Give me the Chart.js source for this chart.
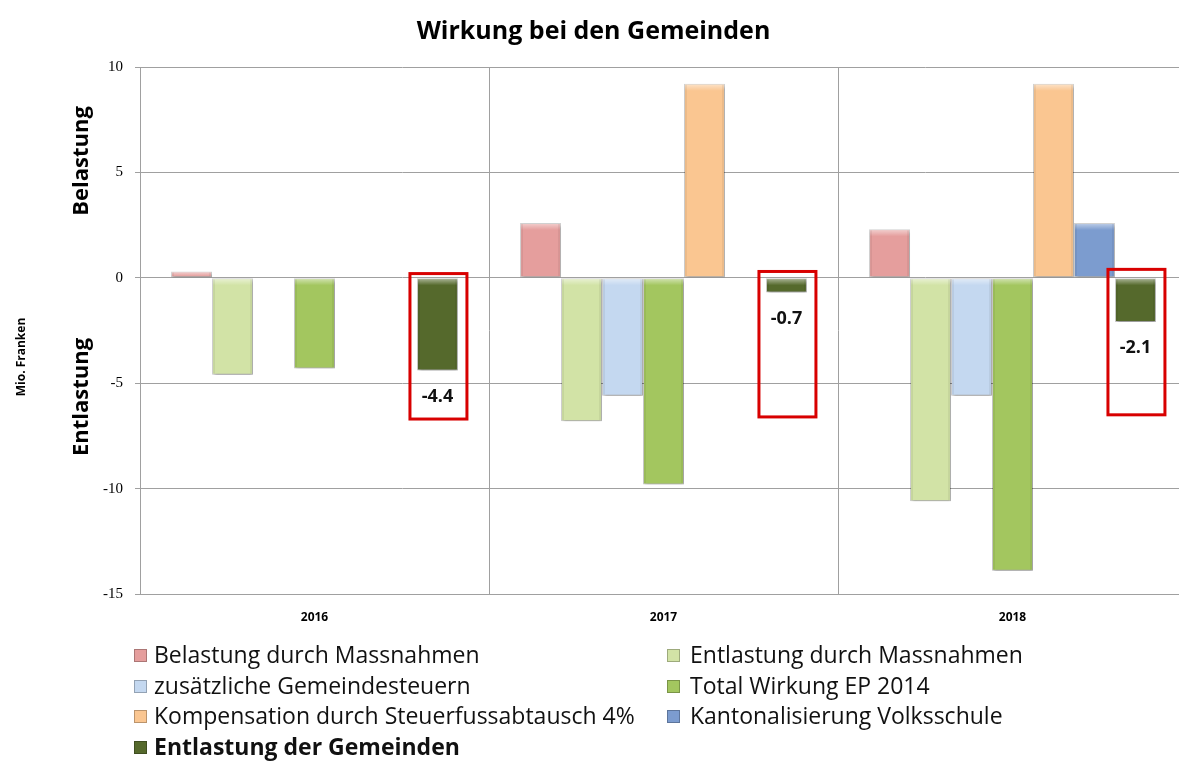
<!DOCTYPE html>
<html>
<head>
<meta charset="utf-8">
<script src="https://cdn.jsdelivr.net/npm/chart.js@4"></script>
<style>
	body { margin: 0; background: #fff; overflow: hidden; width: 1179px; height: 766px; position: relative; }
	#wrap { position: absolute; left: 0; top: 0; width: 1200px; height: 640px; }
	#legend { position: absolute; left: 0; top: 639px; width: 1179px; font-family: "Open Sans", sans-serif; font-size: 23px; color: #111; }
	#legend .item { position: absolute; height: 30px; line-height: 30px; white-space: nowrap; }
	#legend .box { position: absolute; top: 10px; width: 13px; height: 13px; box-sizing: border-box; border: 1px solid rgba(0,0,0,0.25); }
	#legend .txt { position: absolute; top: 0; }
</style>
</head>
<body>
<div id="wrap"><canvas id="chart" width="1200" height="640"></canvas></div>
<div id="legend"></div>
<script>
// values in Mio. Franken
var years = ['2016', '2017', '2018'];
var belastungMassnahmen = [0.3, 2.6, 2.3];
var entlastungMassnahmen = [-4.6, -6.8, -10.6];
var zusGemeindesteuern = [0, -5.6, -5.6];
var totalWirkung = [-4.3, -9.8, -13.9];
var kompensation = [0, 9.2, 9.2];
var kantonalisierung = [0, 0, 2.6];
var entlastungGemeinden = [-4.4, -0.7, -2.1];

var yTicks = [10, 5, 0, -5, -10, -15];

// red frames around the net effect (value range)
var frameTop = [0.2, 0.3, 0.4];
var frameBottom = [-6.7, -6.6, -6.5];

var series = [
	{ label: 'Belastung durch Massnahmen', data: belastungMassnahmen, color: '#E59E9D' },
	{ label: 'Entlastung durch Massnahmen', data: entlastungMassnahmen, color: '#D2E3A6' },
	{ label: 'zusätzliche Gemeindesteuern', data: zusGemeindesteuern, color: '#C4D8F0' },
	{ label: 'Total Wirkung EP 2014', data: totalWirkung, color: '#A3C65F' },
	{ label: 'Kompensation durch Steuerfussabtausch 4%', data: kompensation, color: '#FAC691' },
	{ label: 'Kantonalisierung Volksschule', data: kantonalisierung, color: '#7C9CCF' },
	{ label: 'Entlastung der Gemeinden', data: entlastungGemeinden, color: '#55692C' }
];

var datasets = series.map(function (s) {
	return {
		label: s.label,
		data: s.data,
		backgroundColor: s.color,
		borderColor: 'rgba(0,0,0,0.18)',
		borderWidth: function (c) { return c.raw ? 1 : 0; },
		borderSkipped: false
	};
});

var shadowPlugin = {
	id: 'shadow',
	beforeDatasetsDraw: function (chart) {
		var ctx = chart.ctx;
		ctx.save();
		ctx.shadowColor = 'rgba(0,0,0,0.35)';
		ctx.shadowBlur = 3;
		ctx.shadowOffsetX = 1;
		ctx.shadowOffsetY = 2;
	},
	afterDatasetsDraw: function (chart) {
		chart.ctx.restore();
	}
};

// soft bevel on each bar, taken from the drawn elements
var bevelPlugin = {
	id: 'bevel',
	afterDatasetsDraw: function (chart) {
		var ctx = chart.ctx;
		ctx.save();
		chart.data.datasets.forEach(function (ds, d) {
			chart.getDatasetMeta(d).data.forEach(function (bar, i) {
				if (!ds.data[i]) { return; }
				var l = bar.x - bar.width / 2;
				var top = Math.min(bar.y, bar.base);
				var h = Math.abs(bar.base - bar.y);
				var bh = Math.min(6, h - 2);
				var g = ctx.createLinearGradient(0, top + 1, 0, top + 1 + bh);
				g.addColorStop(0, 'rgba(255,255,255,0.45)');
				g.addColorStop(1, 'rgba(255,255,255,0)');
				ctx.fillStyle = g;
				ctx.fillRect(l + 1, top + 1, bar.width - 2, bh);
				ctx.fillStyle = 'rgba(0,0,0,0.06)';
				ctx.fillRect(l + 1, top + 1, 2, h - 2);
				ctx.fillRect(l + bar.width - 3, top + 1, 2, h - 2);
			});
		});
		ctx.restore();
	}
};

var extrasPlugin = {
	id: 'extras',
	afterDatasetsDraw: function (chart) {
		var ctx = chart.ctx;
		var y = chart.scales.y;
		var last = chart.data.datasets.length - 1;
		var meta = chart.getDatasetMeta(last);
		ctx.save();
		meta.data.forEach(function (bar, i) {
			// red frame
			var left = bar.x - bar.width / 2 - 7;
			var right = bar.x + bar.width / 2 + 9;
			var top = y.getPixelForValue(frameTop[i]);
			var bottom = y.getPixelForValue(frameBottom[i]);
			ctx.strokeStyle = '#D80000';
			ctx.lineWidth = 3;
			ctx.strokeRect(left, top, right - left, bottom - top);
			// value label
			ctx.fillStyle = '#111';
			ctx.font = 'bold 18px "Open Sans"';
			ctx.textAlign = 'center';
			ctx.textBaseline = 'middle';
			ctx.fillText(entlastungGemeinden[i].toFixed(1), bar.x, bar.y + 26);
		});
		ctx.restore();
	},
	afterDraw: function (chart) {
		var ctx = chart.ctx;
		ctx.save();
		ctx.fillStyle = '#000';
		ctx.textAlign = 'center';
		ctx.textBaseline = 'middle';
		function vtext(txt, x, yy, font) {
			ctx.save();
			ctx.translate(x, yy);
			ctx.rotate(-Math.PI / 2);
			ctx.font = font;
			ctx.fillText(txt, 0, 0);
			ctx.restore();
		}
		vtext('Belastung', 82, 161, 'bold 22px "Open Sans"');
		vtext('Entlastung', 82, 397, 'bold 22px "Open Sans"');
		vtext('Mio. Franken', 22, 357, 'bold 12px "Open Sans"');
		ctx.restore();
	}
};

var chart = new Chart(document.getElementById('chart'), {
	type: 'bar',
	data: { labels: years, datasets: datasets },
	options: {
		responsive: false,
		animation: false,
		layout: { padding: { left: 0, right: 13, top: 0, bottom: 0 } },
		categoryPercentage: 0.822,
		barPercentage: 1,
		plugins: {
			legend: { display: false },
			tooltip: { enabled: false },
			title: {
				display: true,
				text: 'Wirkung bei den Gemeinden',
				color: '#000',
				font: { family: 'Open Sans', size: 25, weight: 'bold', lineHeight: 1.2 },
				padding: { top: 17, bottom: 20 }
			}
		},
		scales: {
			x: {
				afterFit: function (s) { s.height = 46; },
				grid: { color: '#A0A0A0', tickLength: 0 },
				border: { color: '#A0A0A0' },
				ticks: { color: '#000', padding: 16, font: { family: 'Open Sans', size: 12, weight: 'bold' } }
			},
			y: {
				min: -15,
				max: 10,
				afterFit: function (s) { s.width = 140; },
				afterBuildTicks: function (s) { s.ticks = yTicks.map(function (v) { return { value: v }; }); },
				grid: { color: '#A0A0A0', tickLength: 5 },
				border: { color: '#A0A0A0' },
				ticks: { color: '#000', padding: 12, font: { family: 'Liberation Serif', size: 15 } }
			}
		}
	},
	plugins: [shadowPlugin, bevelPlugin, extrasPlugin]
});

// legend in two columns, built from the datasets
var legend = document.getElementById('legend');
var cols = [134, 667];
chart.data.datasets.forEach(function (ds, i) {
	var col = i % 2;
	var row = Math.floor(i / 2);
	var item = document.createElement('div');
	item.className = 'item';
	item.style.left = cols[col] + 'px';
	item.style.top = (row * 30.7) + 'px';
	var box = document.createElement('span');
	box.className = 'box';
	box.style.left = '0px';
	box.style.background = ds.backgroundColor;
	var txt = document.createElement('span');
	txt.className = 'txt';
	txt.style.left = (col ? 23 : 20) + 'px';
	txt.textContent = ds.label;
	if (i === chart.data.datasets.length - 1) { txt.style.fontWeight = 'bold'; }
	item.appendChild(box);
	item.appendChild(txt);
	legend.appendChild(item);
});
</script>
</body>
</html>
